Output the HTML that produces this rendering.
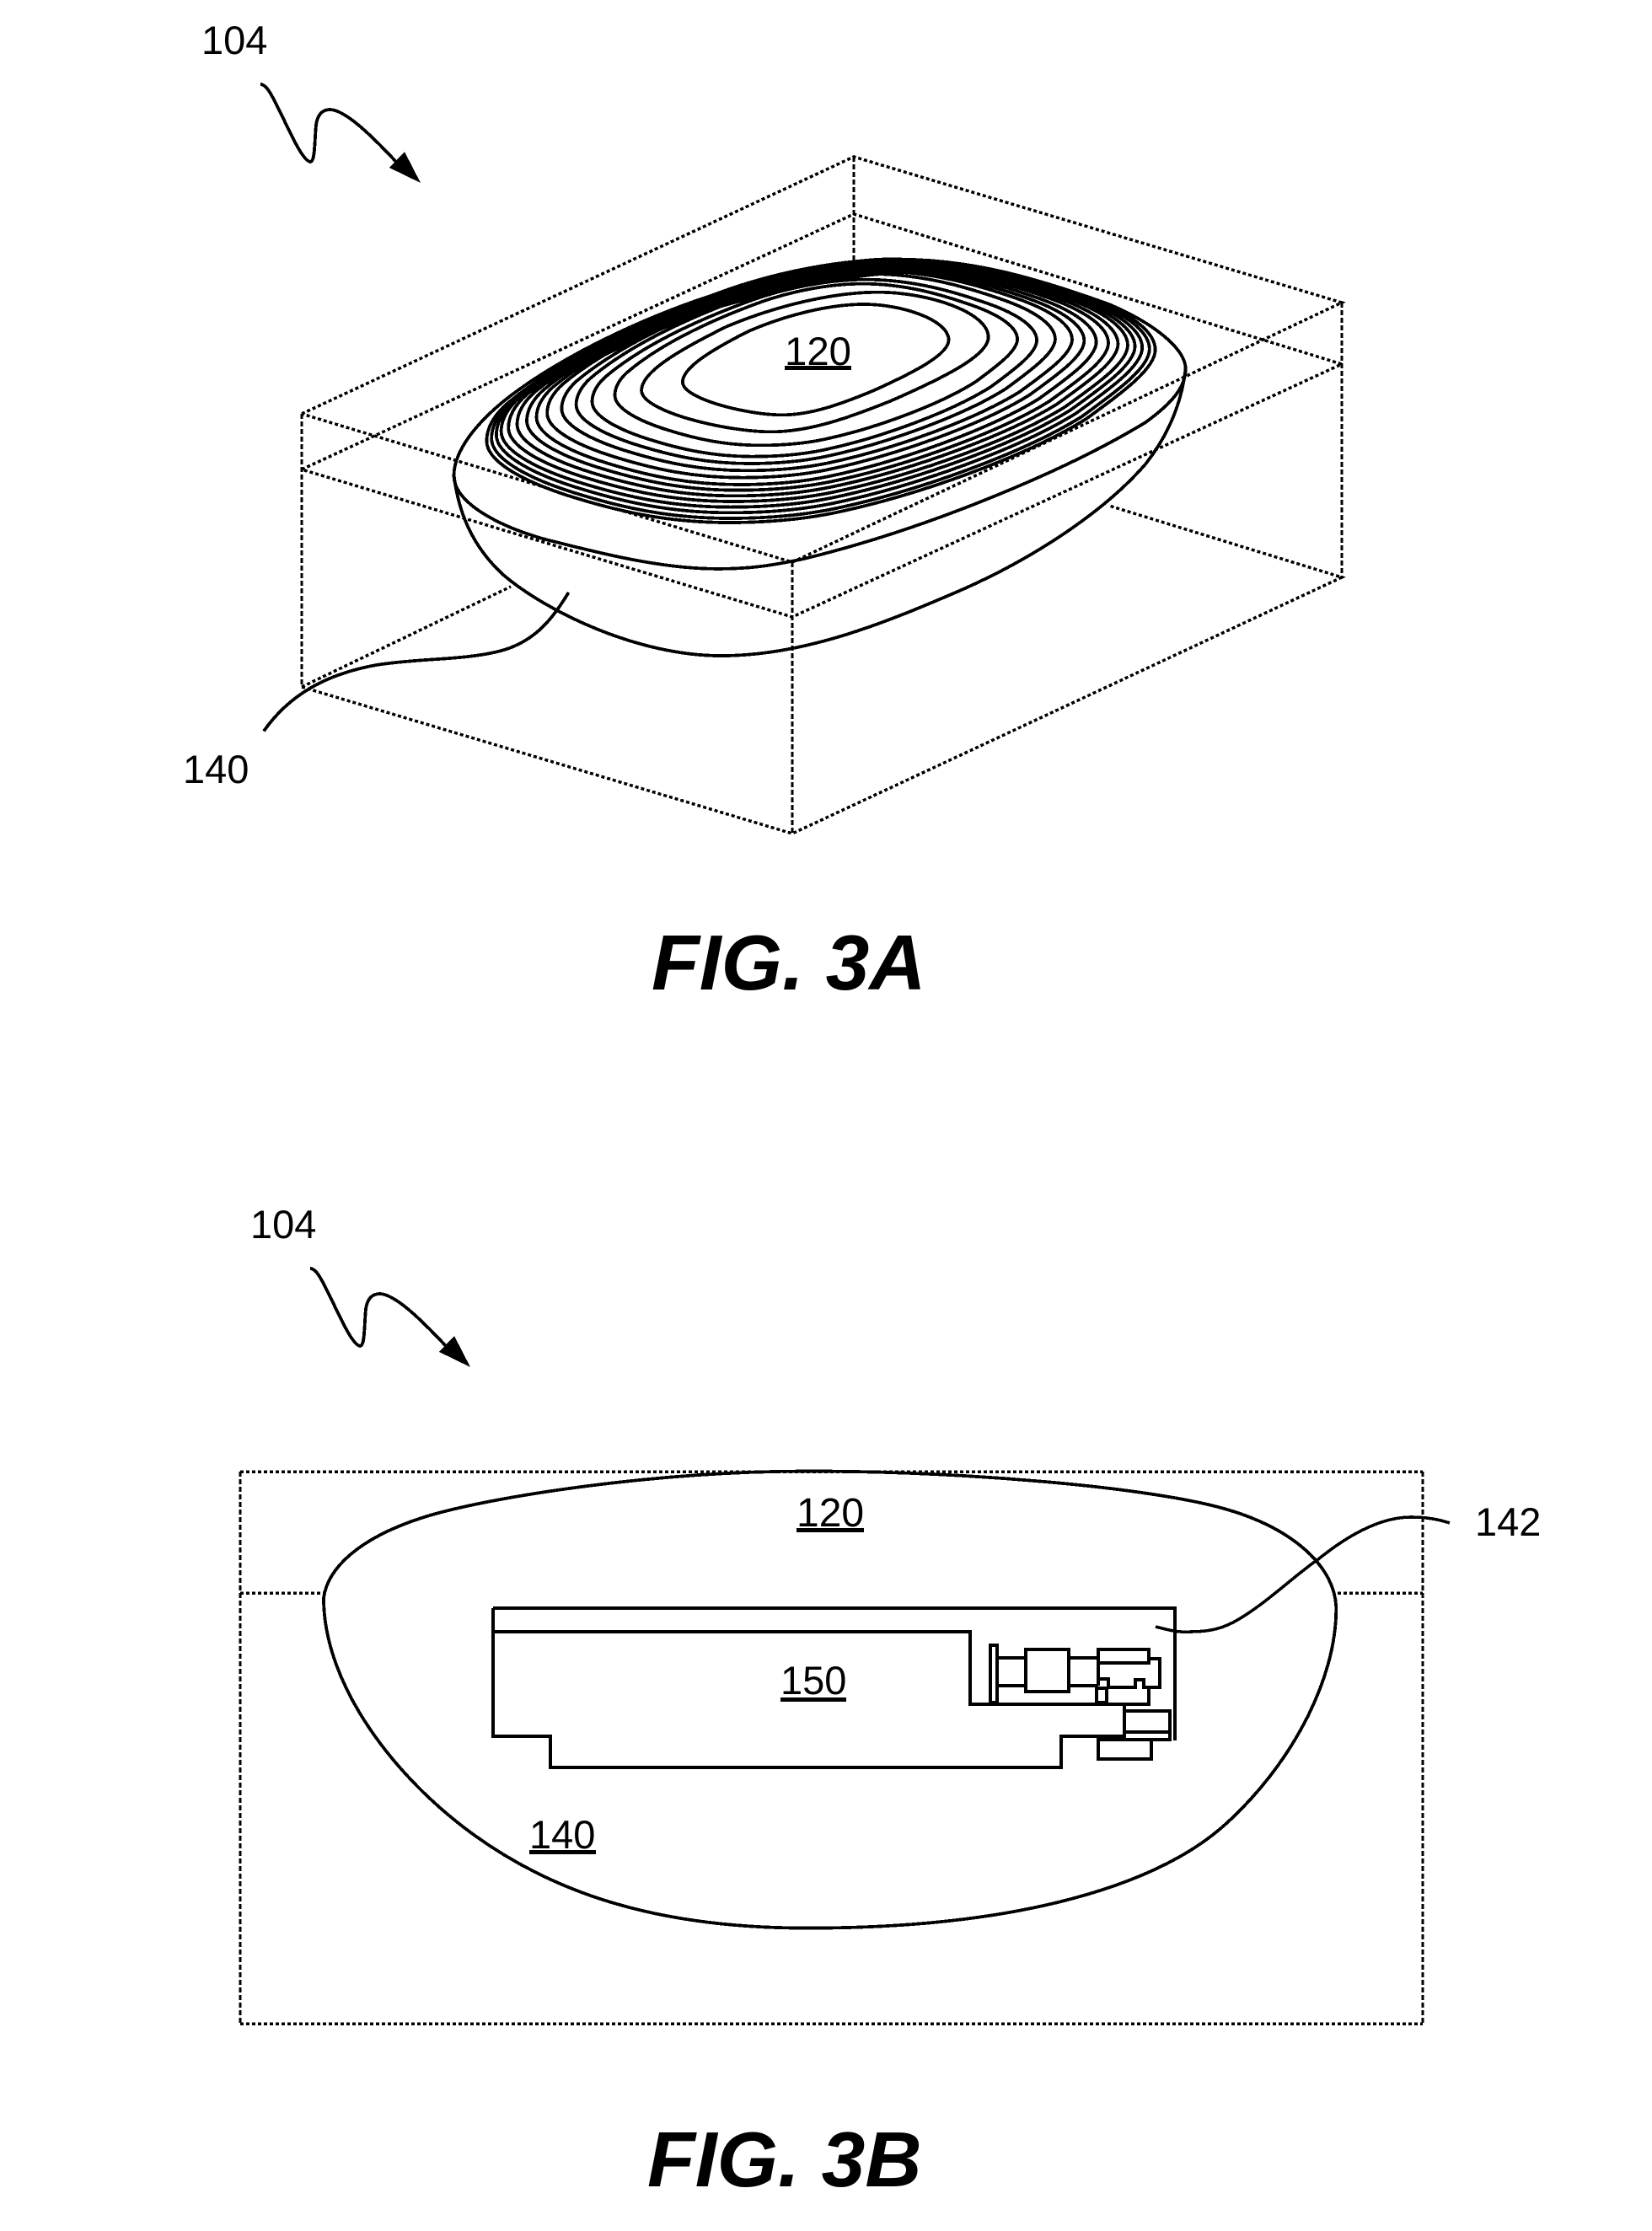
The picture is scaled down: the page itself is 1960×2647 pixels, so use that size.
<!DOCTYPE html>
<html>
<head>
<meta charset="utf-8">
<title>FIG. 3A and FIG. 3B</title>
<style>
html,body{margin:0;padding:0;background:#fff;}
svg{display:block;shape-rendering:crispEdges;}
text{font-family:"Liberation Sans",sans-serif;fill:#000;}
.n{font-size:47px;}
.cap{font-size:93px;font-weight:bold;font-style:italic;}
.d{fill:none;stroke:#000;stroke-width:3.5;stroke-dasharray:4 3;}
.v{fill:none;stroke:#000;stroke-width:2.7;stroke-dasharray:6 3;}
.s{fill:none;stroke:#000;stroke-width:3.8;vector-effect:non-scaling-stroke;}
.w{fill:#fff;stroke:#000;stroke-width:3.8;vector-effect:non-scaling-stroke;}
.l{fill:none;stroke:#000;stroke-width:3.8;}
</style>
</head>
<body>
<svg xmlns="http://www.w3.org/2000/svg" width="1960" height="2647" viewBox="0 0 1960 2647">
<rect width="1960" height="2647" fill="#fff"/>
<defs>
<g id="arrow">
<path class="l" d="M309 100C316 100 322 112 330 128C342 152 358 190 368 192C374 192 373 170 375 148C377 136 382 130 392 130C410 131 440 160 470 192"/>
<polygon points="499,217 480,180 462,199" fill="#000"/>
</g>
<path id="outer" class="s" d="M100 730C100 680 118 635 140 600C250 440 420 300 600 190C700 130 830 83 950 83C1100 83 1230 150 1330 210C1430 270 1482 340 1482 405C1482 470 1420 550 1340 650C1220 780 1000 920 820 985C750 1010 670 1020 600 1020C480 1020 380 985 270 925C170 870 100 800 100 730Z"/>
<path id="inner" class="s" d="M505 520C505 470 560 410 640 340C720 280 810 243 880 243C960 243 1055 300 1055 370C1055 420 990 480 900 550C830 600 770 637 710 637C640 637 505 580 505 520Z"/>
</defs>

<!-- FIG 3A -->
<text class="n" x="239" y="64">104</text>
<use href="#arrow"/>

<g>
<path class="d" d="M358 491L1013 186L1592 359L940 667L358 491"/>
<path class="d" d="M358 557L1013 254L1592 432L940 732L358 557"/>
<path class="d" d="M358 815L940 989L1592 685L1316 600"/>
<path class="d" d="M358 815L606 696"/>
<path class="v" d="M358 491V815M940 667V989M1592 359V685M1013 186V309"/>
</g>

<g transform="translate(300,150) scale(.8612,.5485)">
<path class="s" d="M277 755C277 700 310 640 345 595C420 500 560 390 700 335C770 305 830 287 880 287C1000 287 1100 340 1180 385C1240 425 1285 480 1285 525C1285 565 1265 600 1230 640C1120 745 930 870 760 935C720 948 690 957 640 957C560 957 470 920 400 892C340 865 277 815 277 755Z"/>
<path class="s" d="M277 755C283 830 300 905 345 970C405 1050 530 1145 645 1145C760 1145 870 1075 980 1000C1080 930 1175 830 1230 730C1265 660 1280 590 1285 525"/>
</g>

<g transform="translate(520,280) scale(.574,.33333)">
<path class="w" d="M100 730C100 680 118 635 140 600C250 440 420 300 600 190C700 130 830 83 950 83C1100 83 1230 150 1330 210C1430 270 1482 340 1482 405C1482 470 1420 550 1340 650C1220 780 1000 920 820 985C750 1010 670 1020 600 1020C480 1020 380 985 270 925C170 870 100 800 100 730Z"/>
<use href="#outer" transform="matrix(.9841 0 0 .9797 11.6 5.7)"/>
<use href="#outer" transform="matrix(.9660 0 0 .9552 23.4 10.7)"/>
<use href="#outer" transform="matrix(.9479 0 0 .9296 35.2 16.8)"/>
<use href="#outer" transform="matrix(.9262 0 0 .9039 52.4 23)"/>
<use href="#outer" transform="matrix(.8987 0 0 .8783 73.1 29.1)"/>
<use href="#outer" transform="matrix(.8698 0 0 .8516 96 36.3)"/>
<use href="#outer" transform="matrix(.8372 0 0 .8250 119.3 43.5)"/>
<use href="#outer" transform="matrix(.8032 0 0 .7919 144.7 52.3)"/>
<use href="#outer" transform="matrix(.7634 0 0 .7577 178.7 62.1)"/>
<use href="#outer" transform="matrix(.7164 0 0 .7204 213.4 75.2)"/>
<use href="#outer" transform="matrix(.6650 0 0 .6724 251.5 99.2)"/>
<use href="#outer" transform="matrix(.6020 0 0 .6137 304.8 119.1)"/>
<use href="#inner" transform="matrix(1.3036 0 0 1.2614 -238.3 -106.5)"/>
<use href="#inner"/>
<path fill="#000" d="M140 600C250 440 420 300 600 190C700 130 830 83 950 83C1100 83 1230 150 1330 240C1240 190 1120 140 1000 135C880 130 720 190 580 258C440 340 320 450 140 600Z"/>
</g>

<text class="n" x="931" y="433" textLength="79" lengthAdjust="spacingAndGlyphs">120</text>
<rect x="931" y="434" width="79" height="5" fill="#000"/>

<g transform="translate(300,150) scale(.8612,.5485)">
<path class="s" d="M435 1008C415 1060 390 1115 340 1135C290 1155 230 1150 170 1165C100 1185 50 1230 15 1308"/>
</g>
<text class="n" x="217" y="929">140</text>
<text class="cap" x="773" y="1174">FIG. 3A</text>

<!-- FIG 3B -->
<text class="n" x="297" y="1469">104</text>
<use href="#arrow" transform="translate(59,1405)"/>

<path class="d" d="M285 1746H1688M285 2401H1688M285 1890H384M1587 1890H1688"/>
<path class="v" d="M285 1746V2401M1688 1746V2401"/>

<g transform="translate(260,1720) scale(.9184,.44)">
<path class="s" d="M135 400C140 320 180 240 260 185C340 130 560 58 760 58C960 58 1200 100 1300 160C1390 214 1443 320 1443 430C1443 620 1385 850 1300 1010C1215 1170 1040 1290 760 1290C560 1290 430 1190 330 1040C230 890 135 640 135 400Z"/>
</g>

<g fill="none" stroke="#000" stroke-width="3.6">
<path d="M585 1908H1394V2065"/>
<path d="M585 1908V2060H653V2097H1259V2060H1334V2022"/>
<path d="M585 1936H1151V2022H1363V2002"/>
<rect x="1175" y="1952" width="8" height="68"/>
<path d="M1183 1967H1217M1183 2000H1217"/>
<rect x="1217" y="1957" width="51" height="50"/>
<path d="M1268 1967H1303M1268 2000H1303"/>
<rect x="1303" y="1957" width="60" height="16"/>
<path d="M1303 1957V2000"/>
<path d="M1363 1968H1376V2002H1357V1993H1347V2002H1315V1992H1303"/>
<rect x="1301" y="2003" width="12" height="17"/>
<rect x="1334" y="2030" width="54" height="34"/>
<path d="M1334 2055H1388"/>
<rect x="1303" y="2064" width="63" height="23"/>
<path d="M1371 1930C1390 1935 1400 1937 1413 1936C1435 1936 1452 1932 1470 1921C1505 1900 1535 1870 1564 1850C1595 1825 1635 1800 1674 1800C1690 1800 1705 1802 1720 1807"/>
</g>

<text class="n" x="945" y="1811" style="font-size:48px">120</text>
<rect x="945" y="1813" width="80" height="5" fill="#000"/>
<text class="n" x="926" y="2010" style="font-size:47px">150</text>
<rect x="926" y="2014" width="78" height="5" fill="#000"/>
<text class="n" x="628" y="2193" style="font-size:47px">140</text>
<rect x="628" y="2195" width="79" height="5" fill="#000"/>
<text class="n" x="1750" y="1822">142</text>
<text class="cap" x="768" y="2594">FIG. 3B</text>
</svg>
</body>
</html>
